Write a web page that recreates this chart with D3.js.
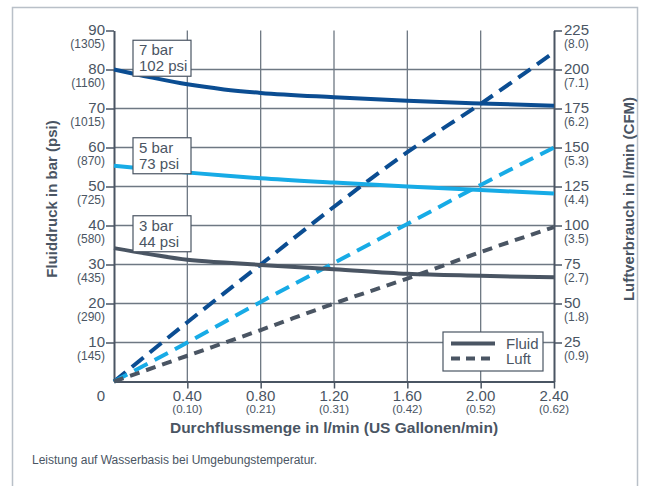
<!DOCTYPE html>
<html>
<head>
<meta charset="utf-8">
<script src="https://cdn.jsdelivr.net/npm/d3@7"></script>
<style>
  body { margin: 0; background: #fff; }
  svg { font-family: "Liberation Sans", Arial, sans-serif; }
</style>
</head>
<body>
<div id="chart"></div>
<script>
// x axis: flow in l/min, with US gallons/min below
var flowTicks = [0.4, 0.8, 1.2, 1.6, 2.0, 2.4];
var gallonLabels = ["0.10", "0.21", "0.31", "0.42", "0.52", "0.62"];

// left axis: fluid pressure in bar (psi)
var barTicks = [10, 20, 30, 40, 50, 60, 70, 80, 90];
var psiLabels = ["145", "290", "435", "580", "725", "870", "1015", "1160", "1305"];

// right axis: air consumption in l/min (CFM)
var airTicks = [25, 50, 75, 100, 125, 150, 175, 200, 225];
var cfmLabels = ["0.9", "1.8", "2.7", "3.5", "4.4", "5.3", "6.2", "7.1", "8.0"];

// fluid pressure curves (bar)
var fluidFlow = [0, 0.2, 0.4, 0.6, 0.8, 1.2, 1.6, 2.0, 2.4];
var fluid7 = [80, 78, 76.2, 74.9, 74.0, 72.9, 72.0, 71.3, 70.7];
var fluid5 = [55.3, 54.4, 53.6, 52.8, 52.1, 51.0, 50.0, 49.1, 48.2];
var fluid3 = [34.2, 32.6, 31.2, 30.5, 29.9, 28.8, 27.6, 27.1, 26.7];

// air consumption lines (l/min)
var airFlow = [0, 0.4, 0.8, 1.2, 1.6, 2.0, 2.4];
var air7 = [0, 38, 75, 112, 147, 178, 211];
var air5 = [0, 25, 51, 76, 101, 126, 150];
var air3 = [0, 16.5, 33, 50, 66, 83, 99];

var pressures = [
  { bar: "7 bar", psi: "102 psi", color: "#0b4d92", fluid: fluid7, air: air7, dash: "15,8", boxTop: 87.5 },
  { bar: "5 bar", psi: "73 psi", color: "#17abe6", fluid: fluid5, air: air5, dash: "15,8", boxTop: 62.5 },
  { bar: "3 bar", psi: "44 psi", color: "#4a5563", fluid: fluid3, air: air3, dash: "10,7", boxTop: 42.5 }
];

var textColor = "#4a5563";
var gridColor = "#6e7883";

var W = 656, H = 486;
var margin = { top: 30.5, right: 102, bottom: 104.5, left: 114 };
var width = W - margin.left - margin.right,
  height = H - margin.top - margin.bottom;

var svg = d3.select("#chart")
  .append("svg")
  .attr("width", W)
  .attr("height", H);

// outer frame
svg.append("rect")
  .attr("x", 12.5).attr("y", 7.5)
  .attr("width", 625).attr("height", 490)
  .attr("fill", "none")
  .attr("stroke", "#b9c0c8")
  .attr("stroke-width", 1.5);

var g = svg.append("g")
  .attr("transform", "translate(" + margin.left + "," + margin.top + ")");

var x = d3.scaleLinear().domain([0, 2.4]).range([0, width]);
var y = d3.scaleLinear().domain([0, 90]).range([height, 0]);
var yAir = d3.scaleLinear().domain([0, 225]).range([height, 0]);

// gridlines
g.append("g")
  .selectAll("line")
  .data(barTicks.slice(0, -1))
  .enter().append("line")
  .attr("x1", 0).attr("x2", width)
  .attr("y1", function (d) { return y(d); })
  .attr("y2", function (d) { return y(d); })
  .attr("stroke", gridColor).attr("stroke-width", 1.3);

g.append("g")
  .selectAll("line")
  .data(flowTicks.slice(0, -1))
  .enter().append("line")
  .attr("y1", 0).attr("y2", height)
  .attr("x1", function (d) { return x(d); })
  .attr("x2", function (d) { return x(d); })
  .attr("stroke", gridColor).attr("stroke-width", 1.3);

// axes
function styleAxis(sel) {
  sel.selectAll("text").remove();
  sel.select(".domain").attr("stroke", textColor).attr("stroke-width", 2);
  sel.selectAll(".tick line").attr("stroke", textColor).attr("stroke-width", 1.5);
}

g.append("g")
  .call(d3.axisLeft(y).tickValues(barTicks).tickSize(8).tickSizeOuter(0))
  .call(styleAxis);

g.append("g")
  .attr("transform", "translate(" + width + ",0)")
  .call(d3.axisRight(yAir).tickValues(airTicks).tickSize(8).tickSizeOuter(0))
  .call(styleAxis);

g.append("g")
  .attr("transform", "translate(0," + height + ")")
  .call(d3.axisBottom(x).tickValues(flowTicks).tickSize(7).tickSizeOuter(0))
  .call(styleAxis);

// tick labels
var leftLab = g.append("g").attr("fill", textColor).attr("text-anchor", "end");
leftLab.selectAll(".main")
  .data(barTicks).enter().append("text")
  .attr("x", -9).attr("y", function (d) { return y(d) + 4; })
  .style("font-size", "15px")
  .text(function (d) { return d; });
leftLab.selectAll(".sub")
  .data(barTicks).enter().append("text")
  .attr("x", -9).attr("y", function (d) { return y(d) + 17; })
  .style("font-size", "12px")
  .text(function (d, i) { return "(" + psiLabels[i] + ")"; });
leftLab.append("text")
  .attr("x", -9).attr("y", y(0) + 19)
  .style("font-size", "15px")
  .text("0");

var rightLab = g.append("g").attr("fill", textColor).attr("text-anchor", "start");
rightLab.selectAll(".main")
  .data(airTicks).enter().append("text")
  .attr("x", width + 10).attr("y", function (d) { return yAir(d) + 4; })
  .style("font-size", "15px")
  .text(function (d) { return d; });
rightLab.selectAll(".sub")
  .data(airTicks).enter().append("text")
  .attr("x", width + 10).attr("y", function (d) { return yAir(d) + 17; })
  .style("font-size", "12px")
  .text(function (d, i) { return "(" + cfmLabels[i] + ")"; });

var botLab = g.append("g").attr("fill", textColor).attr("text-anchor", "middle");
botLab.selectAll(".main")
  .data(flowTicks).enter().append("text")
  .attr("x", function (d) { return x(d); }).attr("y", height + 19.5)
  .style("font-size", "15px")
  .text(function (d) { return d3.format(".2f")(d); });
botLab.selectAll(".sub")
  .data(flowTicks).enter().append("text")
  .attr("x", function (d) { return x(d); }).attr("y", height + 31)
  .style("font-size", "11.5px")
  .text(function (d, i) { return "(" + gallonLabels[i] + ")"; });

// axis titles
g.append("text")
  .attr("x", width / 2).attr("y", height + 51.5)
  .attr("text-anchor", "middle")
  .attr("fill", textColor)
  .style("font-size", "15.5px").style("font-weight", "bold")
  .text("Durchflussmenge in l/min (US Gallonen/min)");

svg.append("text")
  .attr("transform", "translate(57,199) rotate(-90)")
  .attr("text-anchor", "middle")
  .attr("fill", textColor)
  .style("font-size", "15px").style("font-weight", "bold")
  .text("Fluiddruck in bar (psi)");

svg.append("text")
  .attr("transform", "translate(634,199) rotate(-90)")
  .attr("text-anchor", "middle")
  .attr("fill", textColor)
  .style("font-size", "15px").style("font-weight", "bold")
  .text("Luftverbrauch in l/min (CFM)");

// caption
svg.append("text")
  .attr("x", 32).attr("y", 464)
  .attr("fill", textColor)
  .style("font-size", "12px")
  .text("Leistung auf Wasserbasis bei Umgebungstemperatur.");

// lines
var fluidLine = d3.line()
  .x(function (d, i) { return x(fluidFlow[i]); })
  .y(function (d) { return y(d); })
  .curve(d3.curveMonotoneX);

var airLine = d3.line()
  .x(function (d, i) { return x(airFlow[i]); })
  .y(function (d) { return yAir(d); })
  .curve(d3.curveMonotoneX);

var series = g.append("g")
  .selectAll("g")
  .data(pressures)
  .enter().append("g");

series.append("path")
  .attr("d", function (d) { return airLine(d.air); })
  .attr("fill", "none")
  .attr("stroke", function (d) { return d.color; })
  .attr("stroke-width", 4)
  .attr("stroke-dasharray", function (d) { return d.dash; });

series.append("path")
  .attr("d", function (d) { return fluidLine(d.fluid); })
  .attr("fill", "none")
  .attr("stroke", function (d) { return d.color; })
  .attr("stroke-width", 4);

// pressure label boxes
var boxes = g.append("g")
  .selectAll("g")
  .data(pressures)
  .enter().append("g")
  .attr("transform", function (d) { return "translate(" + (x(0) + 19) + "," + y(d.boxTop) + ")"; });

boxes.append("rect")
  .attr("width", 58).attr("height", 36)
  .attr("fill", "#fff")
  .attr("stroke", textColor).attr("stroke-width", 1.2);

boxes.append("text")
  .attr("x", 6).attr("y", 15)
  .attr("fill", textColor).style("font-size", "15px")
  .text(function (d) { return d.bar; });

boxes.append("text")
  .attr("x", 6).attr("y", 31)
  .attr("fill", textColor).style("font-size", "15px")
  .text(function (d) { return d.psi; });

// legend
var legend = svg.append("g").attr("transform", "translate(443,332)");
legend.append("rect")
  .attr("width", 100).attr("height", 39)
  .attr("fill", "#fff")
  .attr("stroke", textColor).attr("stroke-width", 1.2);

var legendItems = [{ name: "Fluid", dash: null }, { name: "Luft", dash: "9,6" }];
legend.selectAll(".item")
  .data(legendItems)
  .enter().append("line")
  .attr("x1", 8).attr("x2", 52)
  .attr("y1", function (d, i) { return 11.5 + i * 15; })
  .attr("y2", function (d, i) { return 11.5 + i * 15; })
  .attr("stroke", textColor).attr("stroke-width", 4)
  .attr("stroke-dasharray", function (d) { return d.dash; });

legend.selectAll(".label")
  .data(legendItems)
  .enter().append("text")
  .attr("x", 63)
  .attr("y", function (d, i) { return 16.5 + i * 15; })
  .attr("fill", textColor).style("font-size", "15px")
  .text(function (d) { return d.name; });
</script>
</body>
</html>
